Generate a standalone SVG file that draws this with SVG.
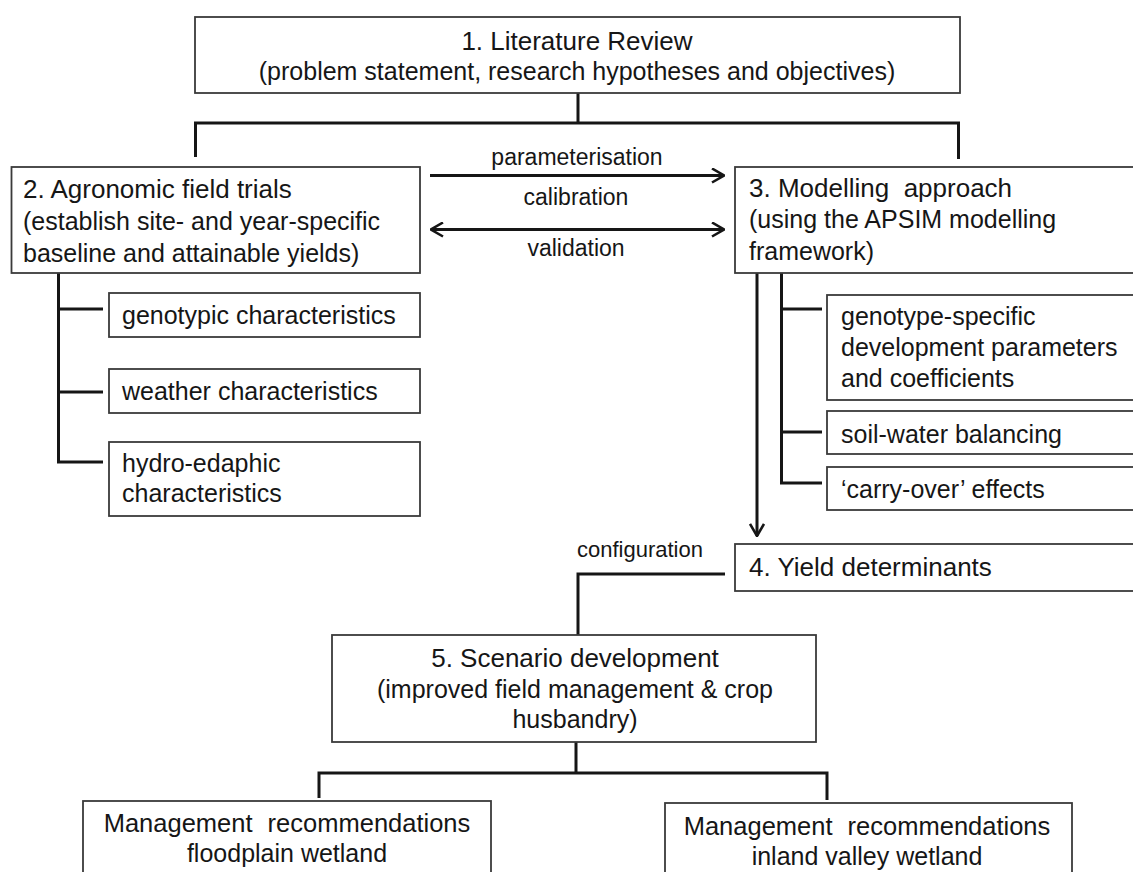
<svg xmlns="http://www.w3.org/2000/svg" width="1133" height="872" viewBox="0 0 1133 872">
  <defs>
    <style>
      .box { fill: #ffffff; stroke: #3a3a3a; stroke-width: 1.8; }
      .link { fill: none; stroke: #161616; stroke-width: 3; }
      text { font-family: "Liberation Sans", Arial, sans-serif; fill: #161616; }
      .title { font-size: 26px; }
      .body { font-size: 25px; }
      .label { font-size: 23px; text-anchor: middle; }
      .mid { text-anchor: middle; }
      .wide { font-size: 25.5px; word-spacing: 8px; }
    </style>
    <marker id="chevron" viewBox="0 0 14 16" refX="13" refY="8" markerWidth="14" markerHeight="16" markerUnits="userSpaceOnUse" orient="auto-start-reverse">
      <path d="M1,1 L13,8 L1,15" fill="none" stroke="#161616" stroke-width="2.6"/>
    </marker>
  </defs>
  <rect width="1133" height="872" fill="#ffffff"/>

  <!-- connectors -->
  <g id="connectors">
    <path class="link" d="M578,93 V123 M195.5,123 H960 M195.5,121.5 V157 M958.5,121.5 V159"/>
    <line class="link" x1="430" y1="175.5" x2="724" y2="175.5" marker-end="url(#chevron)"/>
    <line class="link" x1="431" y1="229.5" x2="724" y2="229.5" marker-start="url(#chevron)" marker-end="url(#chevron)"/>
    <path class="link" d="M58.5,273 V463.5 M58.5,309 H103 M58.5,392 H103 M57,462 H103"/>
    <line class="link" x1="757" y1="273" x2="757" y2="536" marker-end="url(#chevron)"/>
    <path class="link" d="M781.5,273 V484.5 M781.5,309 H822 M781.5,432 H822 M780,483 H822"/>
    <path class="link" d="M725,574 H578 V635"/>
    <path class="link" d="M576,742 V773 M319,773 H827 M319,771.5 V798 M827,771.5 V800"/>
  </g>

  <g id="literature-review">
    <rect class="box" x="195" y="17" width="765" height="76"/>
    <text class="title mid" x="577" y="50">1. Literature Review</text>
    <text class="body mid" x="577" y="80">(problem statement, research hypotheses and objectives)</text>
  </g>

  <g id="field-trials">
    <rect class="box" x="11.5" y="167" width="408.5" height="106"/>
    <text class="title" x="23" y="198">2. Agronomic field trials</text>
    <text class="body" x="23" y="230">(establish site- and year-specific</text>
    <text class="body" x="23" y="262">baseline and attainable yields)</text>
  </g>

  <g id="modelling-approach">
    <rect class="box" x="735" y="167" width="410" height="106"/>
    <text class="title" x="749" y="197" xml:space="preserve">3. Modelling  approach</text>
    <text class="body" x="749" y="228">(using the APSIM modelling</text>
    <text class="body" x="749" y="260">framework)</text>
  </g>

  <g id="link-labels">
    <text class="label" x="577" y="165">parameterisation</text>
    <text class="label" x="576" y="205">calibration</text>
    <text class="label" x="576" y="256">validation</text>
    <text class="label" x="640" y="557" style="font-size:22px">configuration</text>
  </g>

  <g id="genotypic">
    <rect class="box" x="109" y="293" width="311" height="44"/>
    <text class="body" x="122" y="324">genotypic characteristics</text>
  </g>
  <g id="weather">
    <rect class="box" x="109" y="369" width="311" height="44"/>
    <text class="body" x="122" y="400">weather characteristics</text>
  </g>
  <g id="hydro-edaphic">
    <rect class="box" x="109" y="442" width="311" height="74"/>
    <text class="body" x="122" y="472">hydro-edaphic</text>
    <text class="body" x="122" y="502">characteristics</text>
  </g>

  <g id="genotype-parameters">
    <rect class="box" x="827" y="295" width="320" height="105"/>
    <text class="body" x="841" y="325">genotype-specific</text>
    <text class="body" x="841" y="356">development parameters</text>
    <text class="body" x="841" y="387">and coefficients</text>
  </g>
  <g id="soil-water">
    <rect class="box" x="827" y="411" width="320" height="43"/>
    <text class="body" x="841" y="443">soil-water balancing</text>
  </g>
  <g id="carry-over">
    <rect class="box" x="827" y="467" width="320" height="43"/>
    <text class="body" x="841" y="498">‘carry-over’ effects</text>
  </g>

  <g id="yield-determinants">
    <rect class="box" x="735" y="544" width="410" height="47"/>
    <text class="title" x="749" y="576">4. Yield determinants</text>
  </g>

  <g id="scenario-development">
    <rect class="box" x="332" y="635" width="484" height="107"/>
    <text class="title mid" x="575" y="667">5. Scenario development</text>
    <text class="body mid" x="575" y="698">(improved field management &amp; crop</text>
    <text class="body mid" x="575" y="728">husbandry)</text>
  </g>

  <g id="floodplain">
    <rect class="box" x="83" y="801" width="408" height="80"/>
    <text class="body mid wide" x="287" y="832">Management recommendations</text>
    <text class="body mid" x="287" y="862">floodplain wetland</text>
  </g>
  <g id="inland-valley">
    <rect class="box" x="665" y="803" width="407" height="80"/>
    <text class="body mid wide" x="867" y="835">Management recommendations</text>
    <text class="body mid" x="867" y="865">inland valley wetland</text>
  </g>
</svg>
